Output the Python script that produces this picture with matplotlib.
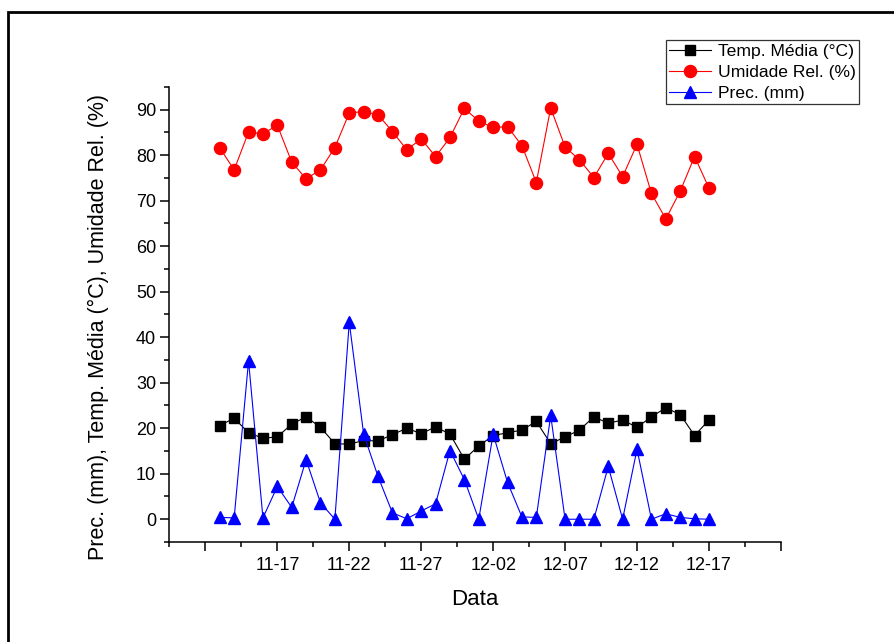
import matplotlib
matplotlib.use("Agg")
import matplotlib.pyplot as plt
from matplotlib.patches import Rectangle
import numpy as np
import pandas as pd

plt.rcParams['font.family'] = ['Liberation Sans', 'DejaVu Sans']

# daily series, 11-13 .. 12-17
dates = pd.date_range("2000-11-13", "2000-12-17", freq="D")
temp = [20.6, 22.2, 19.0, 17.8, 18.1, 20.9, 22.5, 20.2, 16.6, 16.5,
        17.3, 17.2, 18.6, 20.0, 18.8, 20.3, 18.7, 13.2, 16.1, 18.4,
        19.0, 19.6, 21.5, 16.6, 18.1, 19.6, 22.5, 21.1, 21.8, 20.2,
        22.5, 24.5, 23.0, 18.4, 21.8]
umid = [81.6, 76.8, 85.1, 84.7, 86.6, 78.5, 74.8, 76.8, 81.7, 89.3,
        89.6, 88.9, 85.2, 81.2, 83.6, 79.7, 83.9, 90.3, 87.5, 86.1,
        86.3, 82.1, 74.0, 90.4, 81.8, 79.0, 75.1, 80.4, 75.3, 82.4,
        71.6, 66.0, 72.1, 79.7, 72.8]
prec = [0.4, 0.3, 34.8, 0.3, 7.2, 2.6, 13.1, 3.6, 0.0, 43.3,
        18.7, 9.4, 1.4, 0.1, 1.8, 3.4, 15.1, 8.7, 0.0, 18.7,
        8.1, 0.5, 0.4, 22.8, 0.0, 0.0, 0.0, 11.6, 0.0, 15.4,
        0.0, 1.2, 0.4, 0.1, 0.0]

# x ticks: every 5 days from 11-12 to 12-22; only the inner ones labelled
tick_dates = pd.date_range("2000-11-12", "2000-12-22", freq="5D")
shown = ["", "11-17", "11-22", "11-27", "12-02", "12-07", "12-12", "12-17", ""]

x = np.arange(len(dates))
tick_pos = [(d - dates[0]).days for d in tick_dates]
minor_pos = [p + 2.5 for p in tick_pos[:-1]] + [tick_pos[0] - 2.5]

fig = plt.figure(figsize=(8.94, 6.42), dpi=100)
ax = fig.add_axes([0.1895, 0.1558, 0.6840, 0.7087])

ax.plot(x, temp, color="black", lw=0.8, marker="s", ms=7, label="Temp. Média (°C)")
ax.plot(x, umid, color="red", lw=0.8, marker="o", ms=8.7, label="Umidade Rel. (%)")
ax.plot(x, prec, color="blue", lw=0.8, marker="^", ms=9, label="Prec. (mm)")

ax.set_xlim(-3.5, 39)
ax.set_ylim(-5, 95)
ax.set_xticks(tick_pos)
ax.set_xticklabels(shown)
ax.set_xticks(minor_pos, minor=True)
ax.set_yticks(range(0, 91, 10))
ax.set_yticks(range(-5, 96, 10), minor=True)

for s in ("top", "right"):
    ax.spines[s].set_visible(False)
for s in ("left", "bottom"):
    ax.spines[s].set_linewidth(1.1)
ax.tick_params(axis="both", which="major", length=6.5, width=1.1, labelsize=13)
ax.tick_params(axis="both", which="minor", length=3.6, width=1.1)
ax.tick_params(axis="x", which="major", pad=4)
ax.tick_params(axis="y", which="major", pad=3)

ax.set_xlabel("Data", fontsize=16)
ax.xaxis.set_label_coords(0.5, -0.103)
ax.set_ylabel("Prec. (mm), Temp. Média (°C), Umidade Rel. (%)", fontsize=15.5)
ax.yaxis.set_label_coords(-0.098, 0.472)

leg = ax.legend(loc="upper left", bbox_to_anchor=(0.812, 1.103), fontsize=12.6,
                frameon=True, fancybox=False, handlelength=2.4, handletextpad=0.35,
                labelspacing=0.33, borderpad=0.2, borderaxespad=0)
leg.get_frame().set_edgecolor("black")
leg.get_frame().set_linewidth(0.9)

# outer page frame
fig.add_artist(Rectangle((8 / 894, -0.1), 1.2, 1 - 12 / 642 + 0.1,
                         transform=fig.transFigure, fill=False, lw=2, ec="black"))

fig.savefig("out.png", dpi=100)
